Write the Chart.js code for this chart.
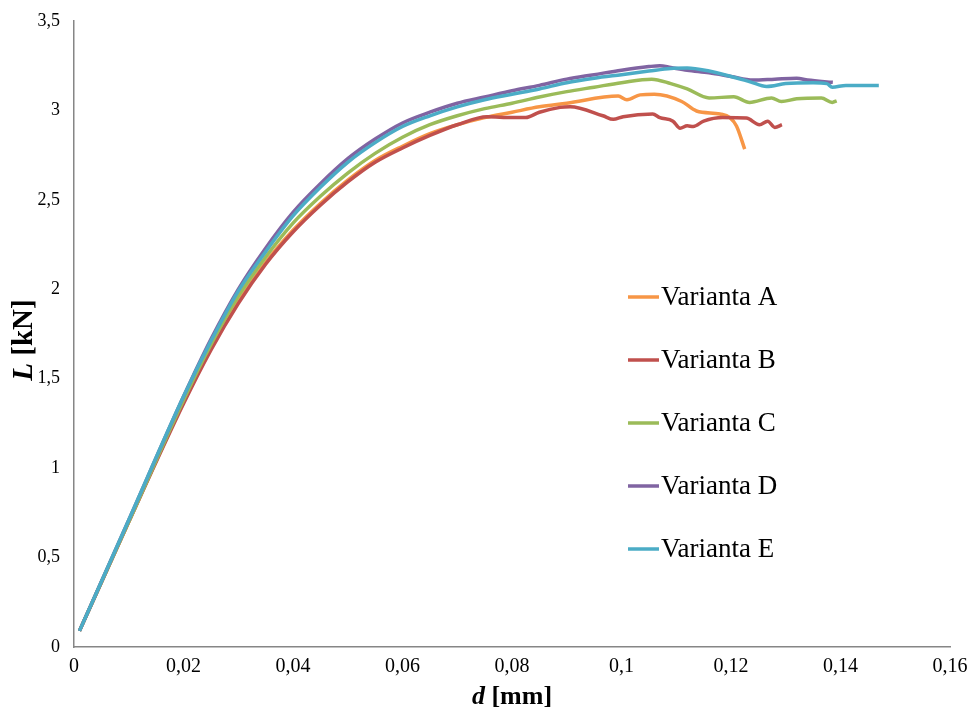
<!DOCTYPE html>
<html>
<head>
<meta charset="utf-8">
<script src="https://cdn.jsdelivr.net/npm/chart.js@4.4.0/dist/chart.umd.min.js"></script>
<style>
  html, body { margin: 0; padding: 0; background: #fff; }
  #wrap { width: 969px; height: 712px; position: relative; }
</style>
</head>
<body>
<div id="wrap"><canvas id="myChart" width="969" height="712"></canvas></div>
<script>
// tick labels
const xTickLabels = ['0', '0,02', '0,04', '0,06', '0,08', '0,1', '0,12', '0,14', '0,16'];
const yTickLabels = ['0', '0,5', '1', '1,5', '2', '2,5', '3', '3,5'];
const seriesNames = ['Varianta A', 'Varianta B', 'Varianta C', 'Varianta D', 'Varianta E'];
const seriesColors = ['#F79646', '#C0504D', '#9BBB59', '#8064A2', '#4BACC6'];

// Varianta A
const aX = [0.001, 0.01, 0.02, 0.025, 0.03, 0.035, 0.04, 0.045, 0.05, 0.055, 0.06, 0.065, 0.07, 0.075, 0.08, 0.085, 0.09, 0.0994, 0.101, 0.1034, 0.106, 0.111, 0.1137, 0.118, 0.1198, 0.121, 0.1225];
const aY = [0.09, 0.70, 1.37, 1.67, 1.93, 2.15, 2.33, 2.48, 2.61, 2.72, 2.80, 2.87, 2.92, 2.96, 2.99, 3.02, 3.04, 3.08, 3.06, 3.087, 3.09, 3.05, 2.997, 2.98, 2.96, 2.913, 2.784];
// Varianta B
const bX = [0.001, 0.01, 0.02, 0.025, 0.03, 0.035, 0.04, 0.045, 0.05, 0.055, 0.06, 0.065, 0.07, 0.0755, 0.08, 0.0825, 0.085, 0.0888, 0.0906, 0.0966, 0.0985, 0.1003, 0.1057, 0.107, 0.1094, 0.1107, 0.112, 0.1131, 0.115, 0.1185, 0.1228, 0.1252, 0.1267, 0.128, 0.1293];
const bY = [0.09, 0.70, 1.36, 1.66, 1.92, 2.14, 2.32, 2.47, 2.60, 2.71, 2.79, 2.86, 2.92, 2.965, 2.96, 2.96, 2.99, 3.017, 3.02, 2.97, 2.95, 2.965, 2.98, 2.96, 2.94, 2.90, 2.914, 2.91, 2.94, 2.96, 2.957, 2.92, 2.94, 2.905, 2.92];
// Varianta C
const cX = [0.001, 0.01, 0.02, 0.025, 0.03, 0.035, 0.04, 0.045, 0.05, 0.055, 0.06, 0.065, 0.07, 0.075, 0.08, 0.085, 0.09, 0.095, 0.1, 0.1055, 0.109, 0.112, 0.116, 0.1205, 0.1234, 0.1274, 0.1292, 0.132, 0.1365, 0.1385, 0.1393];
const cY = [0.09, 0.70, 1.38, 1.69, 1.96, 2.18, 2.37, 2.52, 2.65, 2.76, 2.85, 2.92, 2.97, 3.01, 3.04, 3.075, 3.105, 3.13, 3.155, 3.175, 3.15, 3.12, 3.07, 3.076, 3.045, 3.07, 3.05, 3.065, 3.07, 3.045, 3.054];
// Varianta D
const dX = [0.001, 0.01, 0.02, 0.025, 0.03, 0.035, 0.04, 0.045, 0.05, 0.055, 0.06, 0.065, 0.07, 0.075, 0.08, 0.085, 0.09, 0.095, 0.1, 0.105, 0.107, 0.109, 0.112, 0.116, 0.12, 0.124, 0.128, 0.132, 0.134, 0.1386];
const dY = [0.09, 0.71, 1.40, 1.72, 2.00, 2.23, 2.43, 2.59, 2.73, 2.84, 2.93, 2.99, 3.04, 3.075, 3.11, 3.14, 3.175, 3.20, 3.225, 3.245, 3.25, 3.24, 3.225, 3.21, 3.19, 3.17, 3.175, 3.18, 3.17, 3.157];
// Varianta E
const eX = [0.001, 0.01, 0.02, 0.025, 0.03, 0.035, 0.04, 0.045, 0.05, 0.055, 0.06, 0.065, 0.07, 0.075, 0.08, 0.085, 0.09, 0.095, 0.1, 0.105, 0.109, 0.112, 0.116, 0.12, 0.1235, 0.1265, 0.13, 0.135, 0.1375, 0.1385, 0.141, 0.147];
const eY = [0.09, 0.71, 1.40, 1.71, 1.99, 2.21, 2.41, 2.57, 2.71, 2.82, 2.91, 2.97, 3.02, 3.06, 3.09, 3.12, 3.155, 3.18, 3.20, 3.22, 3.235, 3.237, 3.22, 3.19, 3.16, 3.134, 3.15, 3.155, 3.15, 3.13, 3.14, 3.14];

const allX = [aX, bX, cX, dX, eX];
const allY = [aY, bY, cY, dY, eY];

function toPoints(xs, ys) {
  return xs.map((x, i) => ({ x: x, y: ys[i] }));
}

const datasets = seriesNames.map((name, i) => ({
  label: name,
  data: toPoints(allX[i], allY[i]),
  borderColor: seriesColors[i],
  backgroundColor: seriesColors[i],
  borderWidth: 3.5,
  pointRadius: 0,
  cubicInterpolationMode: 'monotone',
  fill: false,
  order: seriesNames.length - i
}));

// legend inside the plot + axis titles with mixed styles
const extras = {
  id: 'extras',
  afterDraw(chart) {
    const ctx = chart.ctx;
    ctx.save();
    // legend
    ctx.font = '27px "Liberation Serif", "Times New Roman", serif';
    ctx.textBaseline = 'middle';
    ctx.textAlign = 'left';
    seriesNames.forEach((name, i) => {
      const y = 297 + i * 63;
      ctx.strokeStyle = seriesColors[i];
      ctx.lineWidth = 3.5;
      ctx.beginPath();
      ctx.moveTo(628, y);
      ctx.lineTo(659, y);
      ctx.stroke();
      ctx.fillStyle = '#000';
      ctx.fillText(name, 661, y + 1);
    });
    // x title
    ctx.textBaseline = 'alphabetic';
    ctx.font = 'italic bold 26px "Liberation Serif", serif';
    const w1 = ctx.measureText('d').width;
    ctx.font = 'bold 26px "Liberation Serif", serif';
    const w2 = ctx.measureText(' [mm]').width;
    let sx = 512 - (w1 + w2) / 2;
    ctx.font = 'italic bold 26px "Liberation Serif", serif';
    ctx.fillText('d', sx, 704);
    ctx.font = 'bold 26px "Liberation Serif", serif';
    ctx.fillText(' [mm]', sx + w1, 704);
    // y title
    ctx.translate(32, 340);
    ctx.rotate(-Math.PI / 2);
    ctx.font = 'italic bold 29px "Liberation Serif", serif';
    const v1 = ctx.measureText('L').width;
    ctx.font = 'bold 29px "Liberation Serif", serif';
    const v2 = ctx.measureText(' [kN]').width;
    let sy = -(v1 + v2) / 2;
    ctx.font = 'italic bold 29px "Liberation Serif", serif';
    ctx.fillText('L', sy, 0);
    ctx.font = 'bold 29px "Liberation Serif", serif';
    ctx.fillText(' [kN]', sy + v1, 0);
    ctx.restore();
  }
};

const ctx = document.getElementById('myChart');
const grafica = new Chart(ctx, {
  type: 'line',
  data: { datasets: datasets },
  plugins: [extras],
  options: {
    responsive: false,
    animation: false,
    layout: { padding: { top: 21, right: 19, left: 0, bottom: 0 } },
    plugins: {
      legend: { display: false },
      tooltip: { enabled: false }
    },
    scales: {
      x: {
        type: 'linear',
        min: 0,
        max: 0.16,
        grid: { display: false, drawTicks: false },
        border: { display: true, color: '#868686', width: 1.5 },
        ticks: {
          stepSize: 0.02,
          padding: 8,
          color: '#000',
          font: { family: '"Liberation Serif", serif', size: 20 },
          maxRotation: 0,
          autoSkip: false,
          callback: (v, i) => xTickLabels[i]
        },
        afterFit: (s) => { s.height = 65; s.paddingLeft = 0; s.paddingRight = 0; }
      },
      y: {
        type: 'linear',
        min: 0,
        max: 3.5,
        grid: { display: false, drawTicks: false },
        border: { display: true, color: '#868686', width: 1.5 },
        ticks: {
          stepSize: 0.5,
          padding: 14,
          color: '#000',
          font: { family: '"Liberation Serif", serif', size: 18 },
          callback: (v, i) => yTickLabels[i]
        },
        afterFit: (s) => { s.width = 74; s.paddingTop = 0; s.paddingBottom = 0; }
      }
    }
  }
});
</script>
</body>
</html>
